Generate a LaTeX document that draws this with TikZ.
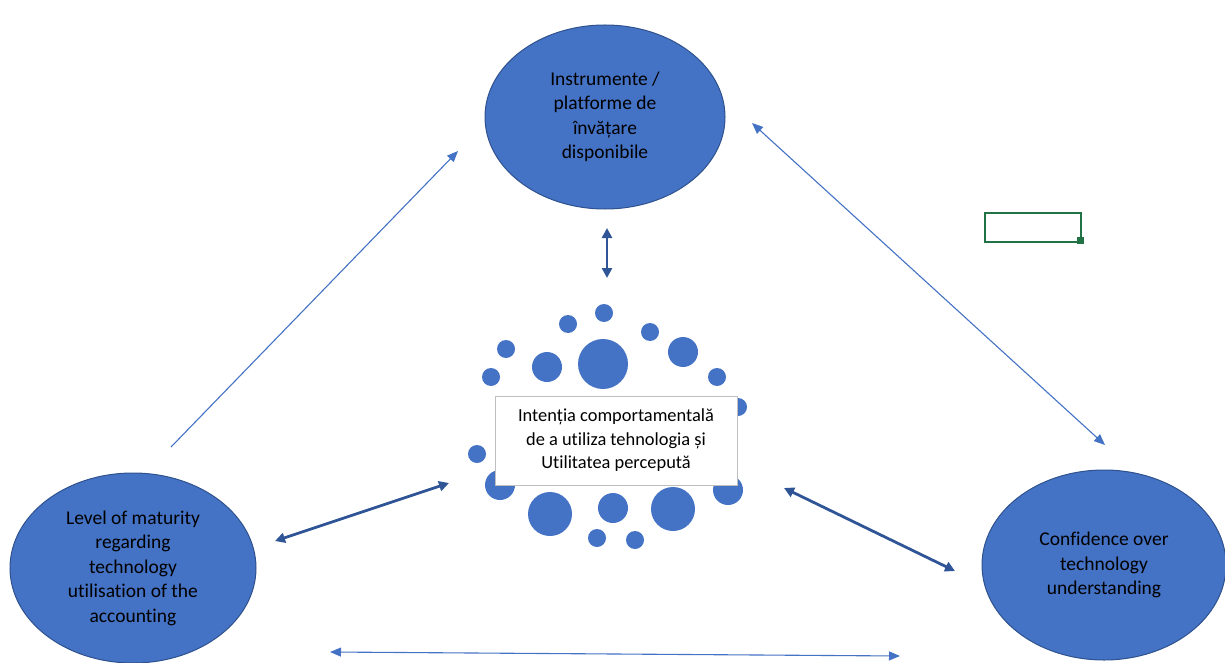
\documentclass[tikz,border=0pt]{standalone}
\usepackage{fontspec}
\setmainfont{Carlito}[Ligatures={NoCommon}]
\usetikzlibrary{shapes.geometric,arrows.meta}
\definecolor{accblue}{HTML}{4472C4}
\definecolor{accdark}{HTML}{2F528F}
\definecolor{arrdark}{HTML}{2F5597}
\definecolor{xlgreen}{HTML}{217346}
\definecolor{boxgrey}{HTML}{BFBFBF}
\tikzset{
  bigoval/.style={ellipse, fill=accblue, draw=accdark, line width=1pt, inner sep=0pt,
     align=center, font=\fontsize{19.5}{24.5}\selectfont, text=black},
  dot/.style={fill=accblue, draw=none},
  thinarr/.style={draw=accblue, line width=1.1pt, -{Triangle[length=11pt,width=9pt]}},
  thinboth/.style={draw=accblue, line width=1.1pt, {Triangle[length=11pt,width=9pt]}-{Triangle[length=11pt,width=9pt]}},
  thickboth/.style={draw=arrdark, line width=2.8pt, {Triangle[length=10pt,width=10pt]}-{Triangle[length=10pt,width=10pt]}},
  centerbox/.style={rectangle, fill=white, draw=boxgrey, line width=0.8pt, minimum width=242pt,
     minimum height=89pt, align=center, font=\fontsize{18.4}{23.5}\selectfont, text=black}
}
\begin{document}
\begin{tikzpicture}[x=1pt,y=-1pt]
\useasboundingbox (0,0) rectangle (1225,663);
\clip (0,0) rectangle (1225,663);
% big ovals
\node[bigoval, minimum width=240pt, minimum height=184pt] (top) at (605,117)
  {Instrumente /\\platforme de\\învățare\\disponibile};
\node[bigoval, minimum width=246pt, minimum height=190pt] (left) at (133,568)
  {Level of maturity\\regarding\\technology\\utilisation of the\\accounting};
\node[bigoval, minimum width=244pt, minimum height=190pt] (right) at (1104,565)
  {Confidence over\\technology\\understanding};
% dots
\foreach \x/\y/\r [count=\i] in {604/313/9, 568/324/9, 650/332/9, 506/349/9, 603/364/25,
   547/367/15, 683/352/15, 491/377/9, 717/377/9, 738/407/9, 477/454/9, 500/485/15,
   550/514/22, 613/508/15, 673/509/22, 728/490/15, 597/538/9, 635/540/9}
  \fill[dot] (\x,\y) circle (\r);
% central box
\node[centerbox] (mid) at (616,440.5)
  {Intenția comportamentală\\de a utiliza tehnologia și\\Utilitatea percepută};
% excel cell
\draw[xlgreen, line width=2pt] (985,213) rectangle (1081,242);
\fill[xlgreen] (1077,237) rectangle (1084,244);
% connector end points
\coordinate (a1) at (171,447); \coordinate (a2) at (458,151);
\coordinate (b1) at (752,123); \coordinate (b2) at (1105,445);
\coordinate (c1) at (607,228); \coordinate (c2) at (607,278);
\coordinate (d1) at (275,541); \coordinate (d2) at (449,483);
\coordinate (e1) at (784,488); \coordinate (e2) at (955,571);
\coordinate (f1) at (330,652); \coordinate (f2) at (900,656);
\draw[thinarr] (a1) -- (a2);
\draw[thinboth] (b1) -- (b2);
\draw[thickboth] (c1) -- (c2);
\draw[thickboth] (d1) -- (d2);
\draw[thickboth] (e1) -- (e2);
\draw[thinboth] (f1) -- (f2);
\end{tikzpicture}
\end{document}
